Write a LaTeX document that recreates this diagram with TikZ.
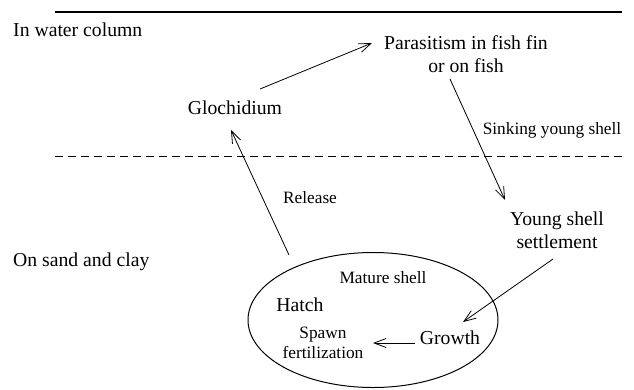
\documentclass[tikz,border=0pt]{standalone}
\usepackage{fontspec}
\setmainfont{Liberation Serif}
\usetikzlibrary{positioning, calc, arrows.meta, shapes.geometric}
\tikzstyle{stageText}=[font=\fontsize{19.7}{23}\selectfont, align=center, inner sep=1pt]
\tikzstyle{noteText}=[font=\fontsize{17.3}{20}\selectfont, align=center, inner sep=1pt]
\tikzstyle{arrow}=[-{Straight Barb[length=12pt, width=9pt]}, line width=0.8pt]
\tikzstyle{shellBorder}=[ellipse, draw, line width=1pt, inner sep=0pt]

\begin{document}
\begin{tikzpicture}[x=1pt, y=-1pt]
      \useasboundingbox (0,0) rectangle (634,389);
      % zones
      \draw [line width=2pt] (55,12) -- (622,12);
      \draw [line width=0.9pt, dash pattern=on 8pt off 5pt] (55,156) -- (622,156);
      \node(water) [stageText, anchor=west] at (12,30) {In water column};
      \node(sand) [stageText, anchor=west] at (12,262) {On sand and clay};
      % stages
      \node(gloch) [stageText] at (235,108) {Glochidium};
      \node(paras) [stageText] at (466,54) {Parasitism in fish fin\\or on fish};
      \node(young) [stageText] at (557,230) {Young shell\\settlement};
      \node(mature) [shellBorder, minimum width=250, minimum height=135] at (373,320) {};
      \node(matureTxt) [noteText] at (383,278) {Mature shell};
      \node(hatch) [stageText] at (300,305) {Hatch};
      \node(spawn) [noteText] at (323,343) {Spawn\\fertilization};
      \node(growth) [stageText] at (450,338) {Growth};
      \node(sinking) [noteText] at (552,130) {Sinking young shell};
      \node(release) [noteText] at (310,198) {Release};
      % cycle
      \draw [arrow] ($ (gloch) + (25,-19) $) -- ($ (paras) + (-94,-11) $);
      \draw [arrow] ($ (paras) + (-16,25) $) -- ($ (young) + (-52,-30) $);
      \draw [arrow] ($ (young) + (-4,29) $) -- ($ (growth) + (13,-16) $);
      \draw [arrow] ($ (growth) + (-35,5) $) -- ($ (spawn) + (50,0) $);
      \draw [arrow] ($ (mature) + (-84,-65) $) -- ($ (gloch) + (-4,22) $);
    \end{tikzpicture}
\end{document}
